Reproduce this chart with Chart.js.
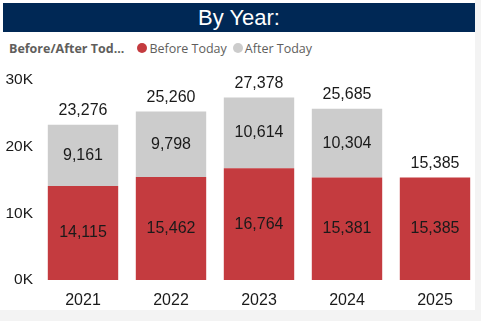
<!DOCTYPE html>
<html>
<head>
<meta charset="utf-8">
<script src="https://cdn.jsdelivr.net/npm/chart.js@4/dist/chart.umd.min.js"></script>
<style>
  html, body { margin: 0; padding: 0; background: #f3f3f3; }
  #panel { position: absolute; left: 0; top: 0; width: 475px; height: 310px; background: #ffffff; }
  #title {
    position: absolute; left: 3px; top: 3px; width: 472px; height: 29px;
    background: #002855; color: #fff; text-align: center;
    font: 22px "Liberation Sans", Arial, sans-serif; line-height: 29px;
  }
  #legend {
    position: absolute; left: 9px; top: 39px; height: 18px;
    font: 12.5px "Open Sans", "Noto Sans", sans-serif; color: #605E5C;
    white-space: nowrap; display: flex; align-items: center;
  }
  #legend b { margin-right: 13px; }
  #legend .dot { display: inline-block; width: 10px; height: 10px; border-radius: 50%; margin-right: 2px; }
  #legend .item { margin-right: 6px; display: flex; align-items: center; }
  #wrap { position: absolute; left: 0; top: 62px; width: 481px; height: 246px; }
</style>
</head>
<body>
<div id="panel">
  <div id="title">By Year:</div>
  <div id="legend"></div>
</div>
<div id="wrap"><canvas id="byYear"></canvas></div>
<script>
const years = ["2021", "2022", "2023", "2024", "2025"];
const beforeToday = [14115, 15462, 16764, 15381, 15385];
const afterToday = [9161, 9798, 10614, 10304, 0];
const seriesNames = ["Before Today", "After Today"];
const seriesColors = ["#C43B3F", "#CCCCCC"];
const yTicks = [0, 10000, 20000, 30000];

const fmt = v => v.toLocaleString("en-US");

// html legend
const legend = document.getElementById("legend");
legend.innerHTML = "<b>Before/After Tod...</b>" + seriesNames.map((n, i) =>
    '<span class="item"><span class="dot" style="background:' + seriesColors[i] + '"></span>' + n + "</span>"
).join("");

const labelPlugin = {
    id: "barLabels",
    afterDatasetsDraw(chart) {
        const ctx = chart.ctx;
        ctx.save();
        ctx.font = '16px "Liberation Sans", Arial, sans-serif';
        ctx.fillStyle = "#1a1a1a";
        ctx.textAlign = "center";
        ctx.textBaseline = "middle";
        chart.data.datasets.forEach((ds, di) => {
            chart.getDatasetMeta(di).data.forEach((bar, i) => {
                if (!ds.data[i]) return;
                ctx.fillText(fmt(ds.data[i]), bar.x, (bar.y + bar.base) / 2);
            });
        });
        // totals
        const yScale = chart.scales.y;
        const meta = chart.getDatasetMeta(0);
        years.forEach((y, i) => {
            const total = beforeToday[i] + afterToday[i];
            ctx.fillText(fmt(total), meta.data[i].x, yScale.getPixelForValue(total) - 14);
        });
        ctx.restore();
    }
};

const data = {
    labels: years,
    datasets: [
        { label: seriesNames[0], data: beforeToday, backgroundColor: seriesColors[0] },
        { label: seriesNames[1], data: afterToday, backgroundColor: seriesColors[1] },
    ],
};

new Chart(document.getElementById("byYear"), {
    type: "bar",
    data: data,
    options: {
        responsive: true,
        maintainAspectRatio: false,
        animation: false,
        layout: { padding: { top: 18, right: 2, left: 0, bottom: 0 } },
        datasets: { bar: { categoryPercentage: 0.8, barPercentage: 1 } },
        scales: {
            x: {
                stacked: true,
                grid: { display: false },
                border: { display: false },
                ticks: { color: "#1a1a1a", font: { family: "Liberation Sans", size: 16 }, padding: 3 },
                afterFit: axis => { axis.height = 28; },
            },
            y: {
                stacked: true,
                min: 0,
                max: 30000,
                afterBuildTicks: axis => { axis.ticks = yTicks.map(v => ({ value: v })); },
                grid: { display: false },
                border: { display: false },
                ticks: {
                    color: "#1a1a1a",
                    font: { family: "Liberation Sans", size: 15.5 },
                    padding: -2,
                    callback: v => (v / 1000) + "K",
                },
                afterFit: axis => { axis.width = 39; },
            },
        },
        plugins: {
            legend: { display: false },
            tooltip: { enabled: false },
        },
    },
    plugins: [labelPlugin],
});
</script>
</body>
</html>
